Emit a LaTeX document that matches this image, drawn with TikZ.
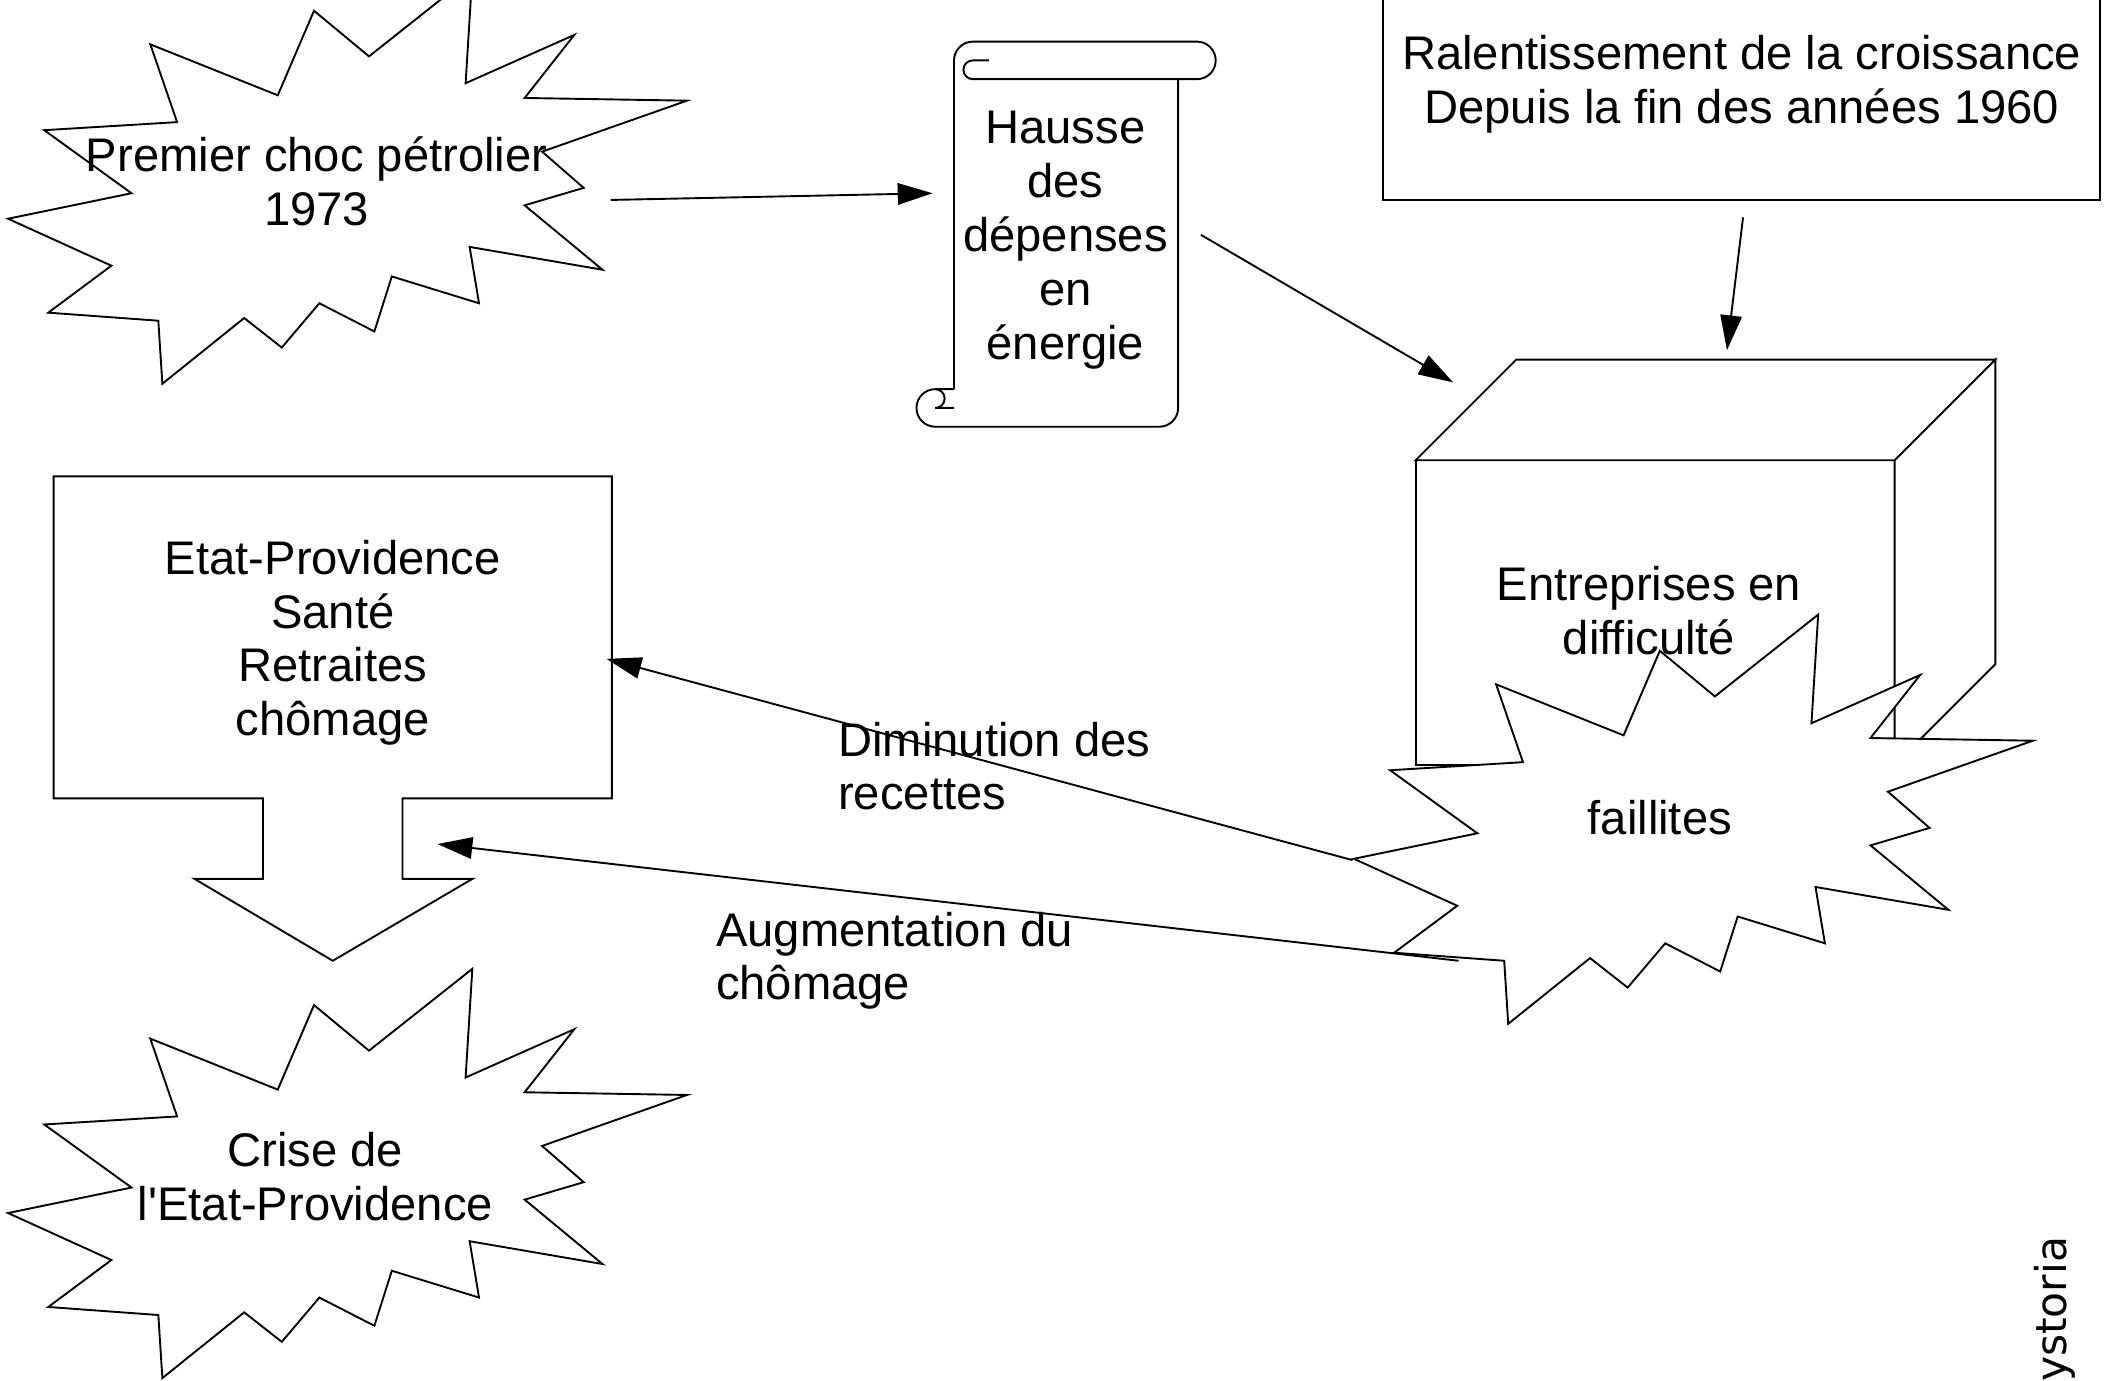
\documentclass[tikz,border=0pt]{standalone}
\usepackage{fontspec}
\setmainfont{Liberation Sans}
\newfontfamily\markfont{DejaVu Sans}
\usetikzlibrary{arrows.meta}
\tikzstyle{textonly} = [align=center, inner sep=0pt]
\tikzstyle{process} = [rectangle, draw=black, fill=white, align=center, inner sep=0pt]
\tikzstyle{outline} = [draw=black, fill=white]
\tikzstyle{arrow} = [-{Triangle[length=0.26cm, width=0.16cm]}]
\tikzstyle{arrowtext} = [align=left, inner sep=0pt, anchor=west]
\tikzset{bang/.pic={
  \draw[outline] (352,-19) -- (347,62) -- (428,26) -- (391,73) -- (512,75) -- (404,113) -- (435,140) -- (391,153) -- (449,201) -- (350,184) -- (357,226) -- (292,206) -- (279,247) -- (238,226) -- (210,259) -- (182,237) -- (121,286) -- (118,239) -- (36,233) -- (83,198) -- (6,163) -- (98,144) -- (33,97) -- (132,91) -- (112,33) -- (207,71) -- (234,8) -- (275,42) -- cycle;
}}

\begin{document}
\begin{tikzpicture}[x=0.01cm, y=-0.01cm]
\tikzstyle{every node}=[font=\fontsize{10}{11.4}\selectfont]
\useasboundingbox (0,0) rectangle (1568,1029);
\clip (0,0) rectangle (1568,1029);

% entreprises (cube)
\draw[outline] (1055,343) rectangle (1412,570);
\draw[outline] (1055,343) -- (1130,268) -- (1487,268) -- (1412,343) -- cycle;
\draw[outline] (1412,343) -- (1487,268) -- (1487,495) -- (1412,570) -- cycle;
\node (entreprises) [textonly] at (1229,455) {Entreprises en\\difficulté};

% explosions
\pic at (0,0) {bang};
\pic at (1003,477) {bang};
\pic at (0,741) {bang};
\node (choc) [textonly] at (236,135) {Premier choc pétrolier\\1973};
\node (faillites) [textonly] at (1237,609) {faillites};
\node (crise) [textonly] at (235,877) {Crise de\\l\textquotesingle Etat-Providence};

% parchemin
\draw[outline] (711,290) -- (711,45) arc[start angle=180, end angle=270, radius=14] -- (892,31) arc[start angle=-90, end angle=90, radius=14] -- (725,59) arc[start angle=90, end angle=270, radius=7] -- (737,45);
\draw (878,59) -- (878,304) arc[start angle=0, end angle=90, radius=14] -- (697,318) arc[start angle=90, end angle=270, radius=14] -- (711,290);
\draw (697,290) arc[start angle=-90, end angle=90, radius=7] -- (711,304);
\node (hausse) [textonly] at (794,179) {Hausse\\des\\dépenses\\en\\énergie};

\node (ralentissement) [process, minimum width=5.34cm, minimum height=1.72cm] at (1298,63) {Ralentissement de la croissance\\Depuis la fin des années 1960};

% etat-providence (fleche vers le bas)
\draw[outline] (40,355) -- (456,355) -- (456,595) -- (300,595) -- (300,655) -- (352,655) -- (248,716) -- (145,655) -- (196,655) -- (196,595) -- (40,595) -- cycle;
\node (etat) [textonly] at (248,479) {Etat-Providence\\Santé\\Retraites\\chômage};

\coordinate (choc_out) at (455,149);
\coordinate (hausse_in) at (695,144);
\coordinate (hausse_out) at (895,175);
\coordinate (cube_left) at (1083,285);
\coordinate (ralentissement_out) at (1299,162);
\coordinate (cube_top) at (1287,261);
\coordinate (faillites_out1) at (1008,641);
\coordinate (etat_in) at (452,491);
\coordinate (faillites_out2) at (1087,716);
\coordinate (fleche_in) at (326,629);

\draw[arrow] (choc_out) -- (hausse_in);
\draw[arrow] (hausse_out) -- (cube_left);
\draw[arrow] (ralentissement_out) -- (cube_top);
\draw[arrow] (faillites_out1) -- (etat_in);
\draw[arrow] (faillites_out2) -- (fleche_in);

\node (diminution) [arrowtext] at (624,571) {Diminution des\\recettes};
\node (augmentation) [arrowtext] at (533,716) {Augmentation du\\chômage};

\node (hystoria) [rotate=90, anchor=east, inner sep=0pt, font=\markfont\fontsize{9}{10}\selectfont] at (1531,921) {ystoria};
\end{tikzpicture}
\end{document}
